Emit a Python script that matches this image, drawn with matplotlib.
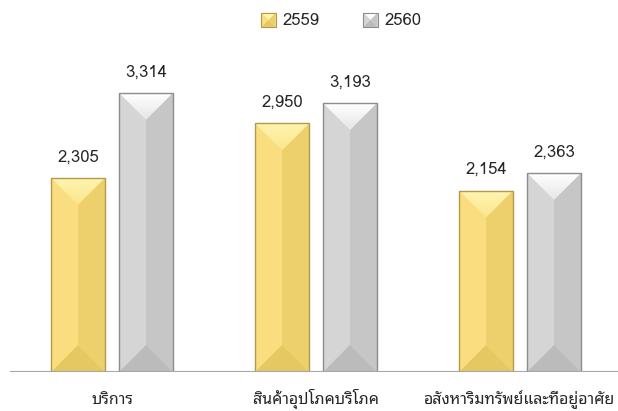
import matplotlib
matplotlib.use("Agg")
import matplotlib.pyplot as plt
import numpy as np
from matplotlib.patches import Polygon, Rectangle
from matplotlib.legend_handler import HandlerBase
from matplotlib.colors import LinearSegmentedColormap

plt.rcParams['font.family'] = ['Loma', 'DejaVu Sans']

categories = ["บริการ", "สินค้าอุปโภคบริโภค", "อสังหาริมทรัพย์และที่อยู่อาศัย"]
series_names = ["2559", "2560"]
values_2559 = [2305, 2950, 2154]
values_2560 = [3314, 3193, 2363]

# face colours
styles = {
    "2559": dict(top1="#FFF4B0", top2="#FBE68C", left="#F9DD7E", right="#EDD06C",
                 bottom="#E6C862", edge="#B49A48"),
    "2560": dict(top1="#FFFFFF", top2="#E6E6E6", left="#D5D5D5", right="#C6C6C6",
                 bottom="#BBBBBB", edge="#8C8C8C"),
}

fig = plt.figure(figsize=(6.18, 4.11), dpi=100)
ax = fig.add_axes([10/618, 39/411, 612/618, 337/411])

x = np.arange(len(categories))
width = 54/204
offset = 34/204
ax.set_xlim(-0.5, len(categories) - 0.5)
ax.set_ylim(0, 4000)

def bevel(ax, bars, st):
    inv = ax.transData.inverted()
    for p in bars:
        x0, y0 = p.get_x(), p.get_y()
        x1, y1 = x0 + p.get_width(), y0 + p.get_height()
        (X0, Y0), (X1, Y1) = ax.transData.transform([(x0, y0), (x1, y1)])
        Xc = (X0 + X1) / 2
        d = (X1 - X0) / 2
        faces = {
            "left": [(X0, Y1), (Xc, Y1 - d), (Xc, Y0 + d), (X0, Y0)],
            "right": [(X1, Y1), (Xc, Y1 - d), (Xc, Y0 + d), (X1, Y0)],
            "bottom": [(X0, Y0), (X1, Y0), (Xc, Y0 + d)],
        }
        for k, pts in faces.items():
            ax.add_patch(Polygon(inv.transform(pts), closed=True, facecolor=st[k],
                                 edgecolor='none', zorder=3))
        top = Polygon(inv.transform([(X0, Y1), (X1, Y1), (Xc, Y1 - d)]), closed=True,
                      facecolor='none', edgecolor='none', zorder=3)
        ax.add_patch(top)
        cmap = LinearSegmentedColormap.from_list("g", [st["top2"], st["top1"]])
        yb = inv.transform([(Xc, Y1 - d)])[0][1]
        im = ax.imshow(np.linspace(0, 1, 64).reshape(-1, 1), cmap=cmap, origin='lower',
                       extent=(x0, x1, yb, y1), aspect='auto', zorder=3.5,
                       interpolation='bilinear')
        im.set_clip_path(top)
        ax.add_patch(Rectangle((x0, y0), p.get_width(), p.get_height(), facecolor='none',
                               edgecolor=st["edge"], linewidth=1.0, zorder=4))

b1 = ax.bar(x - offset, values_2559, width, color=styles["2559"]["left"], zorder=2)
b2 = ax.bar(x + offset, values_2560, width, color=styles["2560"]["left"], zorder=2)
bevel(ax, b1, styles["2559"])
bevel(ax, b2, styles["2560"])
ax.set_xlim(-0.5, len(categories) - 0.5)
ax.set_ylim(0, 4000)

for bars, vals in ((b1, values_2559), (b2, values_2560)):
    for p, v in zip(bars, vals):
        ax.annotate(f"{v:,}", (p.get_x() + p.get_width() / 2, p.get_height()),
                    xytext=(0, 12), textcoords='offset points', ha='center',
                    va='baseline', fontsize=12, color='#262626')

ax.axhline(0, color='#A6A6A6', linewidth=1.5, zorder=5)
for s in ax.spines.values():
    s.set_visible(False)
ax.set_yticks([])
ax.set_xticks(x)
ax.set_xticklabels(categories, fontsize=11.5, color='#262626',
                   family=['Noto Sans Thai Looped', 'DejaVu Sans'])
ax.tick_params(axis='x', length=0, pad=23)
for lab in ax.get_xticklabels():
    lab.set_verticalalignment('baseline')

class BevelHandler(HandlerBase):
    def __init__(self, st):
        super().__init__()
        self.st = st
    def create_artists(self, legend, orig_handle, xdescent, ydescent, width, height,
                       fontsize, trans):
        s = height
        x0 = -xdescent + (width - s) / 2
        y0 = -ydescent
        xc, yc = x0 + s / 2, y0 + s / 2
        st = self.st
        arts = [
            Polygon([(x0, y0 + s), (x0 + s, y0 + s), (xc, yc)], facecolor=st["top1"]),
            Polygon([(x0, y0), (x0, y0 + s), (xc, yc)], facecolor=st["left"]),
            Polygon([(x0 + s, y0), (x0 + s, y0 + s), (xc, yc)], facecolor=st["right"]),
            Polygon([(x0, y0), (x0 + s, y0), (xc, yc)], facecolor=st["bottom"]),
            Rectangle((x0, y0), s, s, facecolor='none', edgecolor=st["edge"], linewidth=0.8),
        ]
        for a in arts:
            if isinstance(a, Polygon):
                a.set_edgecolor('none')
            a.set_transform(trans)
        return arts

h1 = Rectangle((0, 0), 1, 1)
h2 = Rectangle((0, 0), 1, 1)
fig.legend([h1, h2], series_names, loc='center', bbox_to_anchor=(341/618, 1 - 21/411),
           ncol=2, frameon=False, fontsize=12, handlelength=0.95, handleheight=0.95,
           handletextpad=0.35, columnspacing=2.6, labelcolor='#262626',
           handler_map={h1: BevelHandler(styles["2559"]), h2: BevelHandler(styles["2560"])})

fig.savefig("out.png", dpi=100)
